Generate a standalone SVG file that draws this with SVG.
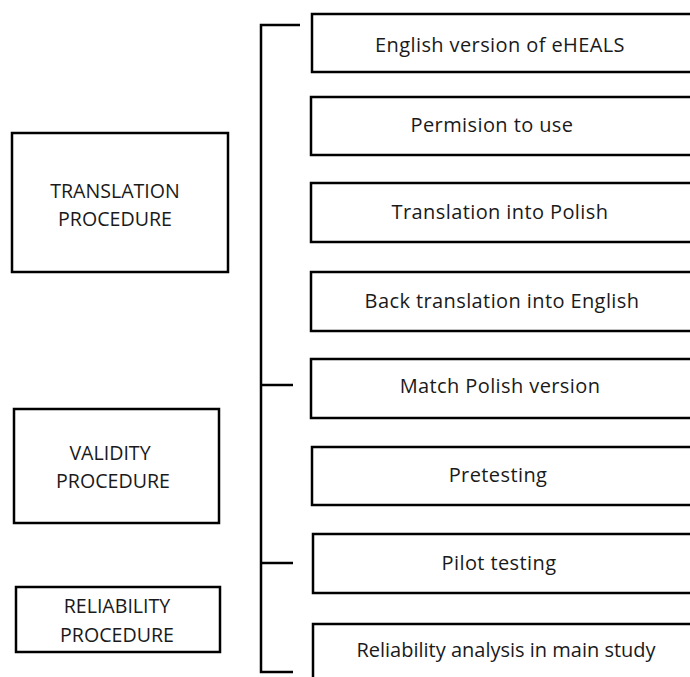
<svg xmlns="http://www.w3.org/2000/svg" width="690" height="677" viewBox="0 0 690 677">
<style>
.box{fill:#fff;stroke:#000;stroke-width:2.5}
.t{font-family:"Open Sans","Liberation Sans",sans-serif;font-size:20px;letter-spacing:0.4px;fill:#1a1a1a;text-anchor:middle}
.h{font-family:"Open Sans","Liberation Sans",sans-serif;font-size:19.6px;fill:#1a1a1a;text-anchor:middle}
.c{fill:none;stroke:#000;stroke-width:2.5}
</style>
<rect width="690" height="677" fill="#fff"/>
<g id="connectors">
<path class="c" d="M300,25 H261 V672 H293"/>
<path class="c" d="M261,385 H293"/>
<path class="c" d="M261,563 H293"/>
</g>
<g id="translation"><rect class="box" x="12" y="133" width="216" height="139"/><text class="h" x="115" y="198">TRANSLATION</text><text class="h" x="115" y="226">PROCEDURE</text></g>
<g id="validity"><rect class="box" x="14" y="409" width="205" height="114"/><text class="h" x="110" y="460">VALIDITY</text><text class="h" x="113" y="488">PROCEDURE</text></g>
<g id="reliability"><rect class="box" x="16" y="587" width="204" height="65"/><text class="h" x="117" y="613">RELIABILITY</text><text class="h" x="117" y="642">PROCEDURE</text></g>
<g id="s1"><rect class="box" x="312" y="14" width="400" height="58"/><text class="t" x="500" y="52">English version of eHEALS</text></g>
<g id="s2"><rect class="box" x="311" y="97" width="400" height="58"/><text class="t" x="492" y="132">Permision to use</text></g>
<g id="s3"><rect class="box" x="311" y="183" width="400" height="59"/><text class="t" x="500" y="219">Translation into Polish</text></g>
<g id="s4"><rect class="box" x="311" y="272" width="400" height="59"/><text class="t" x="502" y="308">Back translation into English</text></g>
<g id="s5"><rect class="box" x="311" y="359" width="400" height="59"/><text class="t" x="500" y="393">Match Polish version</text></g>
<g id="s6"><rect class="box" x="312" y="447" width="400" height="58"/><text class="t" x="498" y="482">Pretesting</text></g>
<g id="s7"><rect class="box" x="313" y="534" width="400" height="59"/><text class="t" x="499" y="570">Pilot testing</text></g>
<g id="s8"><rect class="box" x="313" y="624" width="400" height="80"/><text class="t" x="506" y="657" style="letter-spacing:0">Reliability analysis in main study</text></g>
</svg>
